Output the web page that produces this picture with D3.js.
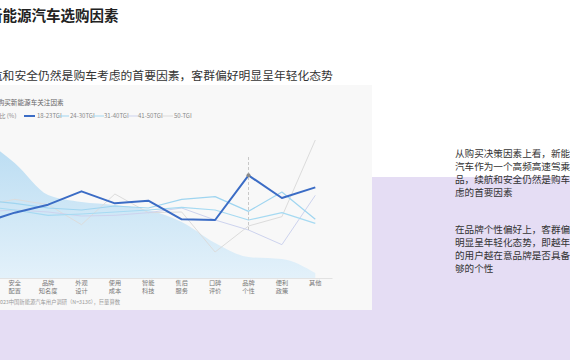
<!DOCTYPE html>
<html><head><meta charset="utf-8">
<script src="https://cdn.jsdelivr.net/npm/d3@7"></script>
<style>
html,body{margin:0;padding:0;background:#fff;}
svg{display:block;font-family:"Noto Sans CJK SC","Noto Sans",sans-serif;}
</style></head>
<body>
<svg id="c" width="570" height="360"></svg>
<script>
const categories = ["续航里程","安全配置","品牌知名度","外观设计","使用成本","智能科技","售后服务","口碑评价","品牌个性","便利政策","其他"];
const labelLines = [["续航","里程"],["安全","配置"],["品牌","知名度"],["外观","设计"],["使用","成本"],["智能","科技"],["售后","服务"],["口碑","评价"],["品牌","个性"],["便利","政策"],["其他"]];
const share = [70, 57.5, 41.5, 38, 36.5, 34, 28, 17.5, 10.5, 9.5, 2.5];
const tgi18_23 = [81, 89, 95, 105, 96, 98, 84, 83.5, 117, 100, 108];
const tgi24_30 = [98.5, 96, 92.5, 91, 94, 92.5, 99, 101, 90, 104.5, 84];
const tgi31_40 = [94, 91, 87, 88, 89.5, 91, 93, 91, 83.5, 89, 81];
const tgi41_50 = [89.5, 91, 89.5, 86.5, 87, 89, 92.5, 83.5, 76, 65, 102];
const tgi50 = [94, 99, 95, 80, 103, 89, 89.5, 59.5, 79, 86, 143.5];
const seriesNames = ["18-23TGI","24-30TGI","31-40TGI","41-50TGI","50-TGI"];
const shareName = "占比 (%)";

const svg = d3.select("#c");
// backgrounds
svg.append("rect").attr("x",372).attr("y",177).attr("width",198).attr("height",183).attr("fill","#e5ddf4");
svg.append("rect").attr("x",0).attr("y",310).attr("width",372).attr("height",50).attr("fill","#e5ddf4");
svg.append("rect").attr("x",0).attr("y",85).attr("width",372).attr("height",225).attr("fill","#f8f8f8");

// headings
svg.append("text").attr("x",-12).attr("y",20.5).attr("font-size",14.5).attr("font-weight","bold").attr("fill","#222").text("新能源汽车选购因素");
svg.append("text").attr("x",-21).attr("y",80).attr("font-size",11.8).attr("fill","#333").text("续航和安全仍然是购车考虑的首要因素，客群偏好明显呈年轻化态势");

// right text
const p1 = ["从购买决策因素上看，新能源","汽车作为一个高频高速驾乘产","品，续航和安全仍然是购车考","虑的首要因素"];
const p2 = ["在品牌个性偏好上，客群偏好","明显呈年轻化态势，即越年轻","的用户越在意品牌是否具备足","够的个性"];
p1.forEach((t,i)=>svg.append("text").attr("x",455).attr("y",156.5+i*13).attr("font-size",9.6).attr("fill","#333").text(t));
p2.forEach((t,i)=>svg.append("text").attr("x",455).attr("y",232.5+i*13).attr("font-size",9.6).attr("fill","#333").text(t));

// chart title
svg.append("text").attr("x",-15.5).attr("y",104.5).attr("font-size",6.6).attr("fill","#666").text("用户购买新能源车关注因素");

// scales
const x = d3.scaleBand().domain(categories).range([-35.4, 332]);
const cx = c => x(c) + x.bandwidth()/2;
const yS = d3.scaleLinear().domain([0,80]).range([278,118]);
const yT = d3.scaleLinear().domain([40,160]).range([278,118]);

// area gradient
const defs = svg.append("defs");
const g = defs.append("linearGradient").attr("id","ag").attr("x1",0).attr("y1",0).attr("x2",0).attr("y2",1);
g.append("stop").attr("offset","0%").attr("stop-color","#b9dcf2");
g.append("stop").attr("offset","100%").attr("stop-color","#e3f1fa");

const plot = svg.append("g");
const area = d3.area().x((d,i)=>cx(categories[i])).y0(yS(0)).y1(d=>yS(d)).curve(d3.curveMonotoneX);
plot.append("path").datum(share).attr("d",area).attr("fill","url(#ag)");

// axis
const xAxis = d3.axisBottom(x).tickSize(0).tickFormat("");
const ax = svg.append("g").attr("transform",`translate(0,${yS(0)})`).call(xAxis);
ax.select(".domain").attr("stroke","#e2e2e2").attr("stroke-width",1);
categories.forEach((c,i)=>{
  const t = svg.append("text").attr("x",cx(c)).attr("y",285).attr("text-anchor","middle").attr("font-size",6.2).attr("fill","#777");
  labelLines[i].forEach((l,j)=>t.append("tspan").attr("x",cx(c)).attr("dy", j===0?0:8).text(l));
});

// pointer
const pc = cx("品牌个性");
svg.append("line").attr("x1",pc).attr("x2",pc).attr("y1",157).attr("y2",232).attr("stroke","#c8c8c8").attr("stroke-dasharray","3,2").attr("stroke-width",1);

const line = d3.line().x((d,i)=>cx(categories[i])).y(d=>yT(d));
const styles = [
  {data:tgi50, color:"#dcdcdc", w:1},
  {data:tgi41_50, color:"#cdd3ee", w:1},
  {data:tgi31_40, color:"#a6daf2", w:1.2},
  {data:tgi24_30, color:"#9fd5f0", w:1.2},
  {data:tgi18_23, color:"#3b6cc5", w:2}
];
styles.forEach(s=>plot.append("path").datum(s.data).attr("d",line).attr("fill","none").attr("stroke",s.color).attr("stroke-width",s.w).attr("stroke-linejoin","round"));
svg.append("circle").attr("cx",pc).attr("cy",yT(tgi18_23[8])).attr("r",2).attr("fill","#8a8a8a");

// legend
const lg = svg.append("g").attr("font-size",6).attr("fill","#888");
lg.append("text").attr("x",-6.5).attr("y",118).attr("fill","#888").text(shareName);
const legItems = [
  {x:24, tx:37, color:"#3b6cc5", w:2},
  {x:58, tx:70, color:"#9fd5f0", w:1},
  {x:93, tx:104, color:"#a6daf2", w:1},
  {x:127, tx:138, color:"#cdd3ee", w:1},
  {x:162, tx:174, color:"#dcdcdc", w:1}
];
legItems.forEach((l,i)=>{
  lg.append("line").attr("x1",l.x).attr("x2",l.x+11).attr("y1",116).attr("y2",116).attr("stroke",l.color).attr("stroke-width",l.w);
  lg.append("text").attr("x",l.tx).attr("y",118).attr("fill","#888").text(seriesNames[i]);
});

// source
svg.append("text").attr("x",-3).attr("y",304).attr("font-size",5.3).attr("fill","#999").text("2023中国新能源汽车用户调研（N=3136），巨量算数");
</script>
</body></html>
